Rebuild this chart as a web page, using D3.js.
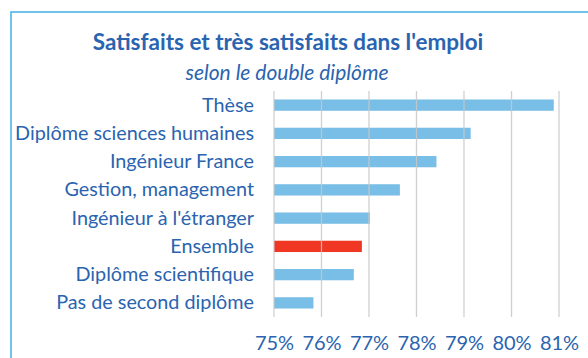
<!DOCTYPE html>
<html>
<head>
<meta charset="utf-8">
<script src="https://cdn.jsdelivr.net/npm/d3@7"></script>
<style>
  html, body { margin: 0; padding: 0; background: #fff; }
  svg { display: block; }
  text { font-family: Lato, "Open Sans", sans-serif; }
</style>
</head>
<body>
<svg id="chart" width="588" height="358"></svg>
<script>
// Share of graduates satisfied or very satisfied with their job, by second degree
const categories = [
  "Thèse",
  "Diplôme sciences humaines",
  "Ingénieur France",
  "Gestion, management",
  "Ingénieur à l'étranger",
  "Ensemble",
  "Diplôme scientifique",
  "Pas de second diplôme"
];
const values = [80.89, 79.14, 78.42, 77.65, 77.02, 76.85, 76.68, 75.83];
const highlight = ["Ensemble"];
const tickValues = [75, 76, 77, 78, 79, 80, 81];

const title = "Satisfaits et très satisfaits dans l'emploi";
const subtitle = "selon le double diplôme";

const textBlue = "#2a64b0";
const barBlue = "#79bee6";
const barRed = "#ef3724";

const svg = d3.select("#chart");
const margin = { left: 274, right: 29, top: 91, bottom: 41 };
const W = 588, H = 358;

// outer frame
svg.append("rect")
  .attr("x", 11).attr("y", 12)
  .attr("width", 600).attr("height", 400)
  .attr("fill", "none")
  .attr("stroke", "#4fb3e6")
  .attr("stroke-width", 1.6);

svg.append("text")
  .attr("x", 288).attr("y", 50)
  .attr("text-anchor", "middle")
  .attr("font-weight", "bold")
  .attr("font-size", 22.5)
  .attr("fill", textBlue)
  .text(title);

svg.append("text")
  .attr("x", 287).attr("y", 80)
  .attr("text-anchor", "middle")
  .attr("font-style", "italic")
  .attr("font-size", 21)
  .attr("fill", textBlue)
  .text(subtitle);

const x = d3.scaleLinear().domain([75, 81]).range([margin.left, W - margin.right]);
const y = d3.scaleBand().domain(categories).range([margin.top, H - margin.bottom]).paddingInner(0.6).paddingOuter(0.3);

const data = categories.map((c, i) => ({ cat: c, v: values[i] }));

// bars
svg.append("g").selectAll("rect")
  .data(data)
  .join("rect")
  .attr("x", x(75))
  .attr("y", d => y(d.cat))
  .attr("width", d => x(d.v) - x(75))
  .attr("height", y.bandwidth())
  .attr("fill", d => highlight.includes(d.cat) ? barRed : barBlue);

// vertical gridlines
svg.append("g").selectAll("line")
  .data(tickValues)
  .join("line")
  .attr("x1", d => x(d)).attr("x2", d => x(d))
  .attr("y1", margin.top).attr("y2", H - margin.bottom)
  .attr("stroke", "#c8c8c8")
  .attr("stroke-opacity", 0.85)
  .attr("stroke-width", 1.3);

// x-axis labels
const xAxis = d3.axisBottom(x).tickValues(tickValues).tickSize(0).tickPadding(0)
  .tickFormat(d => d + "%");
const gx = svg.append("g").attr("transform", `translate(0,${H - 8})`).call(xAxis);
gx.select(".domain").remove();
gx.selectAll("text")
  .attr("dy", 0)
  .attr("font-size", 20)
  .attr("fill", textBlue)
  .attr("font-family", "Lato, 'Open Sans', sans-serif");

// category labels
const yAxis = d3.axisLeft(y).tickSize(0).tickPadding(20);
const gy = svg.append("g").attr("transform", `translate(${margin.left},0)`).call(yAxis);
gy.select(".domain").remove();
gy.selectAll("text")
  .attr("font-size", 19.8)
  .attr("fill", textBlue)
  .attr("dy", "0.33em")
  .attr("font-family", "Lato, 'Open Sans', sans-serif");
</script>
</body>
</html>
